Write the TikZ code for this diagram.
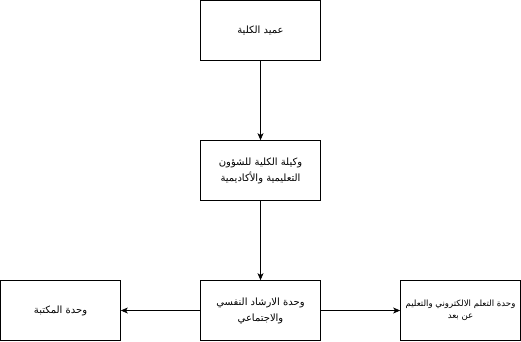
\documentclass[tikz,border=0pt]{standalone}
\usepackage{fontspec}
\TeXXeTstate=1
\newfontfamily\arabicfont[Script=Arabic]{DejaVu Sans}
\usetikzlibrary{arrows.meta,positioning}

\begin{document}
\begin{tikzpicture}[x=1pt, y=-1pt, font=\arabicfont\fontsize{10}{16}\selectfont,
        unitbox/.style={draw, line width=0.7pt, minimum width=120pt, minimum height=60pt,
            align=center, inner sep=0pt},
        link/.style={-{Stealth[length=7pt, width=6pt, inset=2pt]}, line width=0.7pt}]
        \useasboundingbox (0,0) rectangle (521,341);

        \node[unitbox] (dean)    at (260.5, 30.5)  {\beginR عميد الكلية\endR};
        \node[unitbox] (vice)    at (260.5, 170.5) {\beginR وكيلة الكلية للشؤون\endR\\ \beginR التعليمية والأكاديمية\endR};
        \node[unitbox] (counsel) at (260.5, 310.5) {\beginR وحدة الارشاد النفسي\endR\\ \beginR والاجتماعي\endR};
        \node[unitbox] (library) at (60.5, 310.5)  {\beginR وحدة المكتبة\endR};
        \node[unitbox, font=\arabicfont\fontsize{8.6}{12}\selectfont]
                       (elearn)  at (460.5, 310.5) {\beginR وحدة التعلم الالكتروني والتعليم\endR\\ \beginR عن بعد\endR};

        \draw[link] (dean) -- (vice);
        \draw[link] (vice) -- (counsel);
        \draw[link] (counsel) -- (library);
        \draw[link] (counsel) -- (elearn);
    \end{tikzpicture}
\end{document}
